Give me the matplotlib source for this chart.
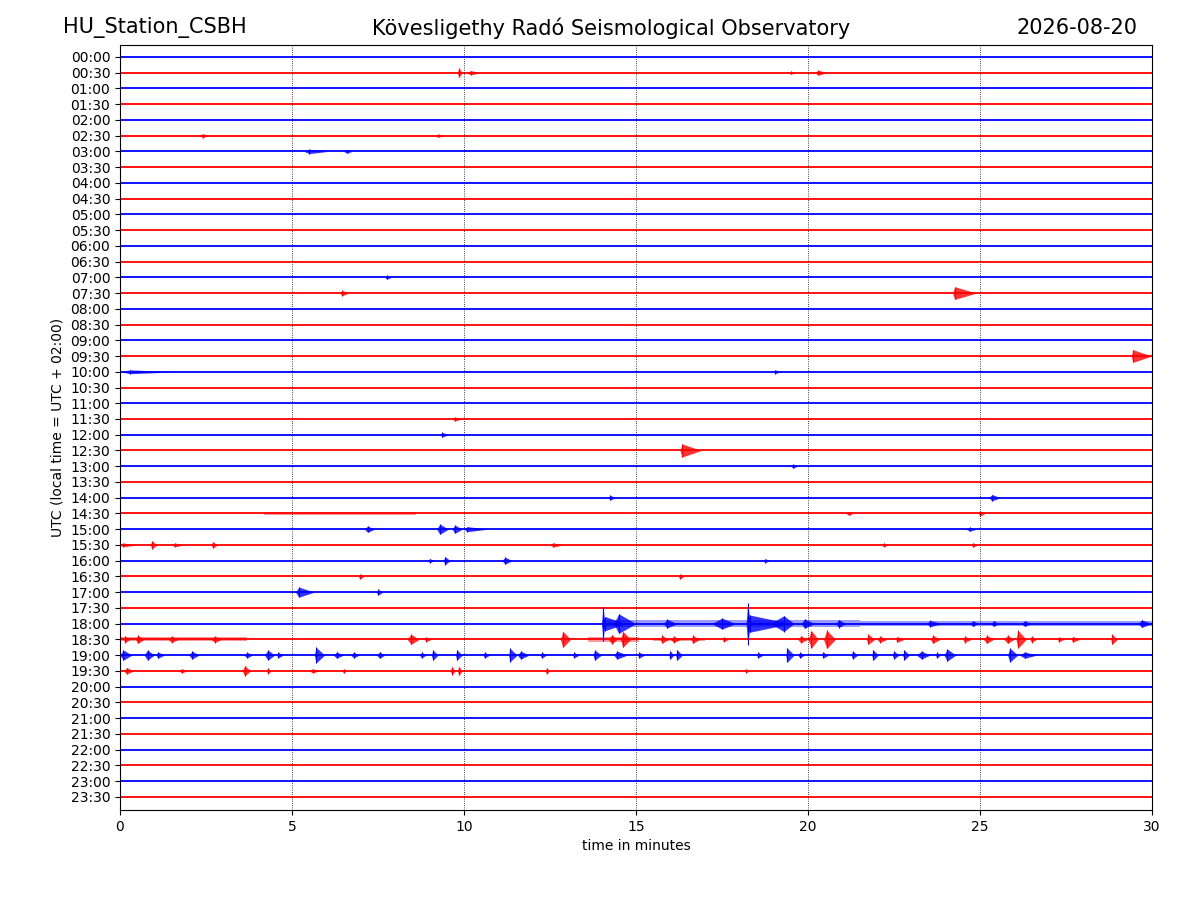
import matplotlib
matplotlib.use('Agg')
import matplotlib.pyplot as plt
import numpy as np

# Helicorder: 48 half-hour rows, 30 minutes each
station = 'HU_Station_CSBH'
observatory = 'Kövesligethy Radó Seismological Observatory'
day = '2026-08-20'
row_labels = ['%02d:%02d' % (h, m) for h in range(24) for m in (0, 30)]
row_colors = ['b', 'r'] * 24

# busier stretches: (row, start, end, half-width), row spacing = 1
bands = [(36, 14.0, 18.0, 0.20), (36, 18.0, 21.5, 0.24), (36, 21.5, 30.0, 0.14),
         (37, 0.0, 3.7, 0.13), (37, 13.6, 15.1, 0.17), (37, 15.5, 17.0, 0.11),
         (29, 4.2, 8.6, 0.10)]

# bursts: (row, start, peak, end, amplitude)
bursts = [
    (1, 9.80, 9.86, 9.95, 0.28), (1, 10.05, 10.2, 10.5, 0.13), (1, 19.45, 19.5, 19.65, 0.10),
    (1, 20.2, 20.3, 20.55, 0.16),
    (5, 2.3, 2.4, 2.6, 0.12), (5, 9.15, 9.25, 9.45, 0.10),
    (6, 5.35, 5.5, 6.05, 0.14), (6, 6.5, 6.6, 6.75, 0.12),
    (14, 7.7, 7.75, 7.9, 0.12),
    (15, 6.4, 6.45, 6.65, 0.18), (15, 24.2, 24.27, 24.9, 0.40),
    (19, 29.4, 29.45, 30.0, 0.40),
    (20, 0.0, 0.3, 1.7, 0.12), (20, 19.0, 19.05, 19.2, 0.12),
    (23, 9.65, 9.74, 9.95, 0.12),
    (24, 9.3, 9.37, 9.55, 0.15),
    (25, 16.28, 16.34, 16.9, 0.42),
    (26, 19.5, 19.57, 19.7, 0.12),
    (28, 14.2, 14.25, 14.4, 0.16), (28, 25.25, 25.35, 25.6, 0.20),
    (29, 21.1, 21.2, 21.3, 0.12), (29, 24.95, 25.0, 25.15, 0.16),
    (30, 7.1, 7.2, 7.4, 0.20), (30, 9.2, 9.3, 9.55, 0.32), (30, 9.65, 9.74, 9.95, 0.26),
    (30, 10.0, 10.1, 10.7, 0.16), (30, 24.6, 24.7, 24.9, 0.13),
    (31, 0.0, 0.1, 0.5, 0.12), (31, 0.88, 0.93, 1.08, 0.26), (31, 1.5, 1.6, 1.85, 0.12),
    (31, 2.65, 2.7, 2.85, 0.19), (31, 12.5, 12.6, 12.9, 0.13), (31, 22.15, 22.2, 22.35, 0.12),
    (31, 24.75, 24.8, 24.95, 0.13),
    (32, 8.95, 9.0, 9.15, 0.13), (32, 9.4, 9.45, 9.6, 0.26), (32, 11.1, 11.2, 11.4, 0.22),
    (32, 18.7, 18.76, 18.9, 0.12),
    (33, 6.93, 6.98, 7.1, 0.16), (33, 16.23, 16.28, 16.4, 0.16),
    (34, 5.1, 5.2, 5.65, 0.32), (34, 7.45, 7.5, 7.65, 0.19),
    # 18:00 event
    (36, 14.0, 14.04, 14.1, 1.08), (36, 14.0, 14.1, 14.7, 0.45), (36, 14.35, 14.5, 15.0, 0.62),
    (36, 15.8, 15.9, 16.2, 0.28), (36, 17.2, 17.5, 17.9, 0.35),
    (36, 18.2, 18.25, 18.32, 1.33), (36, 18.2, 18.3, 19.5, 0.55), (36, 18.9, 19.3, 19.6, 0.50),
    (36, 19.8, 19.9, 20.2, 0.30), (36, 20.8, 20.9, 21.1, 0.25), (36, 23.45, 23.55, 23.9, 0.20),
    (36, 24.7, 24.8, 24.95, 0.18), (36, 25.3, 25.4, 25.55, 0.18), (36, 26.2, 26.3, 26.5, 0.18),
    (36, 29.6, 29.7, 30.0, 0.24),
    # 18:30
    (37, 0.1, 0.15, 0.3, 0.20), (37, 0.45, 0.52, 0.7, 0.26), (37, 1.4, 1.5, 1.7, 0.20),
    (37, 2.65, 2.76, 2.95, 0.20), (37, 8.35, 8.46, 8.7, 0.32), (37, 8.85, 8.9, 9.05, 0.15),
    (37, 12.8, 12.88, 13.1, 0.50), (37, 14.2, 14.3, 14.45, 0.30), (37, 14.55, 14.62, 14.85, 0.50),
    (37, 15.7, 15.76, 15.95, 0.25), (37, 16.0, 16.1, 16.3, 0.20), (37, 16.6, 16.66, 16.85, 0.25),
    (37, 17.5, 17.55, 17.7, 0.15), (37, 19.7, 19.8, 20.0, 0.22), (37, 20.0, 20.1, 20.3, 0.55),
    (37, 20.45, 20.55, 20.8, 0.58), (37, 21.7, 21.75, 21.95, 0.32), (37, 22.0, 22.1, 22.3, 0.20),
    (37, 22.55, 22.6, 22.8, 0.18), (37, 23.55, 23.64, 23.85, 0.25), (37, 24.5, 24.56, 24.75, 0.20),
    (37, 25.1, 25.2, 25.4, 0.25), (37, 25.7, 25.8, 26.0, 0.25), (37, 26.05, 26.1, 26.35, 0.57),
    (37, 26.45, 26.5, 26.65, 0.20), (37, 27.25, 27.3, 27.45, 0.15), (37, 27.65, 27.7, 27.9, 0.18),
    (37, 28.8, 28.84, 29.0, 0.32),
    # 19:00
    (38, 0.0, 0.1, 0.35, 0.32), (38, 0.7, 0.8, 1.0, 0.32), (38, 1.05, 1.1, 1.3, 0.20),
    (38, 2.0, 2.1, 2.3, 0.25), (38, 3.6, 3.7, 3.85, 0.18), (38, 4.2, 4.3, 4.5, 0.32),
    (38, 4.55, 4.6, 4.75, 0.18), (38, 5.65, 5.7, 5.95, 0.50), (38, 6.2, 6.3, 6.5, 0.20),
    (38, 6.7, 6.8, 6.95, 0.18), (38, 7.45, 7.55, 7.7, 0.20), (38, 8.7, 8.77, 8.9, 0.18),
    (38, 9.05, 9.1, 9.25, 0.32), (38, 9.75, 9.8, 9.95, 0.32), (38, 10.55, 10.6, 10.75, 0.18),
    (38, 11.3, 11.33, 11.55, 0.44), (38, 11.55, 11.65, 11.9, 0.25), (38, 12.2, 12.27, 12.4, 0.18),
    (38, 13.15, 13.2, 13.35, 0.18), (38, 13.75, 13.8, 14.0, 0.32), (38, 14.35, 14.45, 14.75, 0.25),
    (38, 15.05, 15.1, 15.25, 0.18), (38, 15.95, 16.0, 16.1, 0.25), (38, 16.15, 16.2, 16.35, 0.32),
    (38, 18.5, 18.55, 18.7, 0.18), (38, 19.35, 19.4, 19.6, 0.44), (38, 19.7, 19.77, 19.9, 0.18),
    (38, 20.4, 20.45, 20.6, 0.18), (38, 21.25, 21.3, 21.45, 0.25), (38, 21.85, 21.9, 22.05, 0.32),
    (38, 22.45, 22.5, 22.65, 0.25), (38, 22.75, 22.8, 22.95, 0.32), (38, 23.15, 23.3, 23.55, 0.25),
    (38, 23.7, 23.75, 23.85, 0.18), (38, 23.95, 24.05, 24.3, 0.38), (38, 25.8, 25.87, 26.1, 0.44),
    (38, 26.15, 26.3, 26.65, 0.20),
    # 19:30
    (39, 0.1, 0.2, 0.4, 0.20), (39, 1.7, 1.8, 1.95, 0.13), (39, 3.55, 3.63, 3.8, 0.32),
    (39, 4.25, 4.3, 4.4, 0.18), (39, 5.5, 5.6, 5.8, 0.13), (39, 6.45, 6.5, 6.6, 0.13),
    (39, 9.6, 9.65, 9.75, 0.26), (39, 9.8, 9.86, 9.95, 0.26), (39, 12.35, 12.4, 12.5, 0.18),
    (39, 18.15, 18.2, 18.3, 0.12),
]

fig = plt.figure(figsize=(12, 9), dpi=100)
ax = fig.add_axes([0.1, 0.1, 0.86, 0.85])

nrows = len(row_labels)
for i in range(nrows):
    ax.plot([0, 30], [i, i], color=row_colors[i], lw=1.3)

for row, t0, t1, a in bands:
    c = row_colors[row]
    ax.fill_between([t0, t1], [row - a] * 2, [row + a] * 2, color=c, alpha=0.4, lw=0)

for row, t0, tp, t1, a in bursts:
    c = row_colors[row]
    env = np.array([0, a, 0])
    ax.fill_between([t0, tp, t1], row - env, row + env, color=c, alpha=0.8, lw=0)
    # sharp spike at the peak of each burst
    ax.vlines(tp, row - a, row + a, color=c, lw=0.8)

for x in [5, 10, 15, 20, 25]:
    ax.axvline(x, color='k', ls=':', lw=0.6)

ax.set_xlim(0, 30)
ax.set_ylim(47.84, -0.76)
ax.set_yticks(range(nrows))
ax.set_yticklabels(row_labels)
ax.set_xlabel('time in minutes')
ax.set_ylabel('UTC (local time = UTC + 02:00)')

fig.text(63 / 1200, 1 - 28 / 900, station, fontsize=15, ha='left', va='center')
fig.text(611 / 1200, 1 - 28 / 900, observatory, fontsize=15, ha='center', va='center')
fig.text(1137 / 1200, 1 - 28 / 900, day, fontsize=15, ha='right', va='center')

fig.savefig('out.png', dpi=100)
